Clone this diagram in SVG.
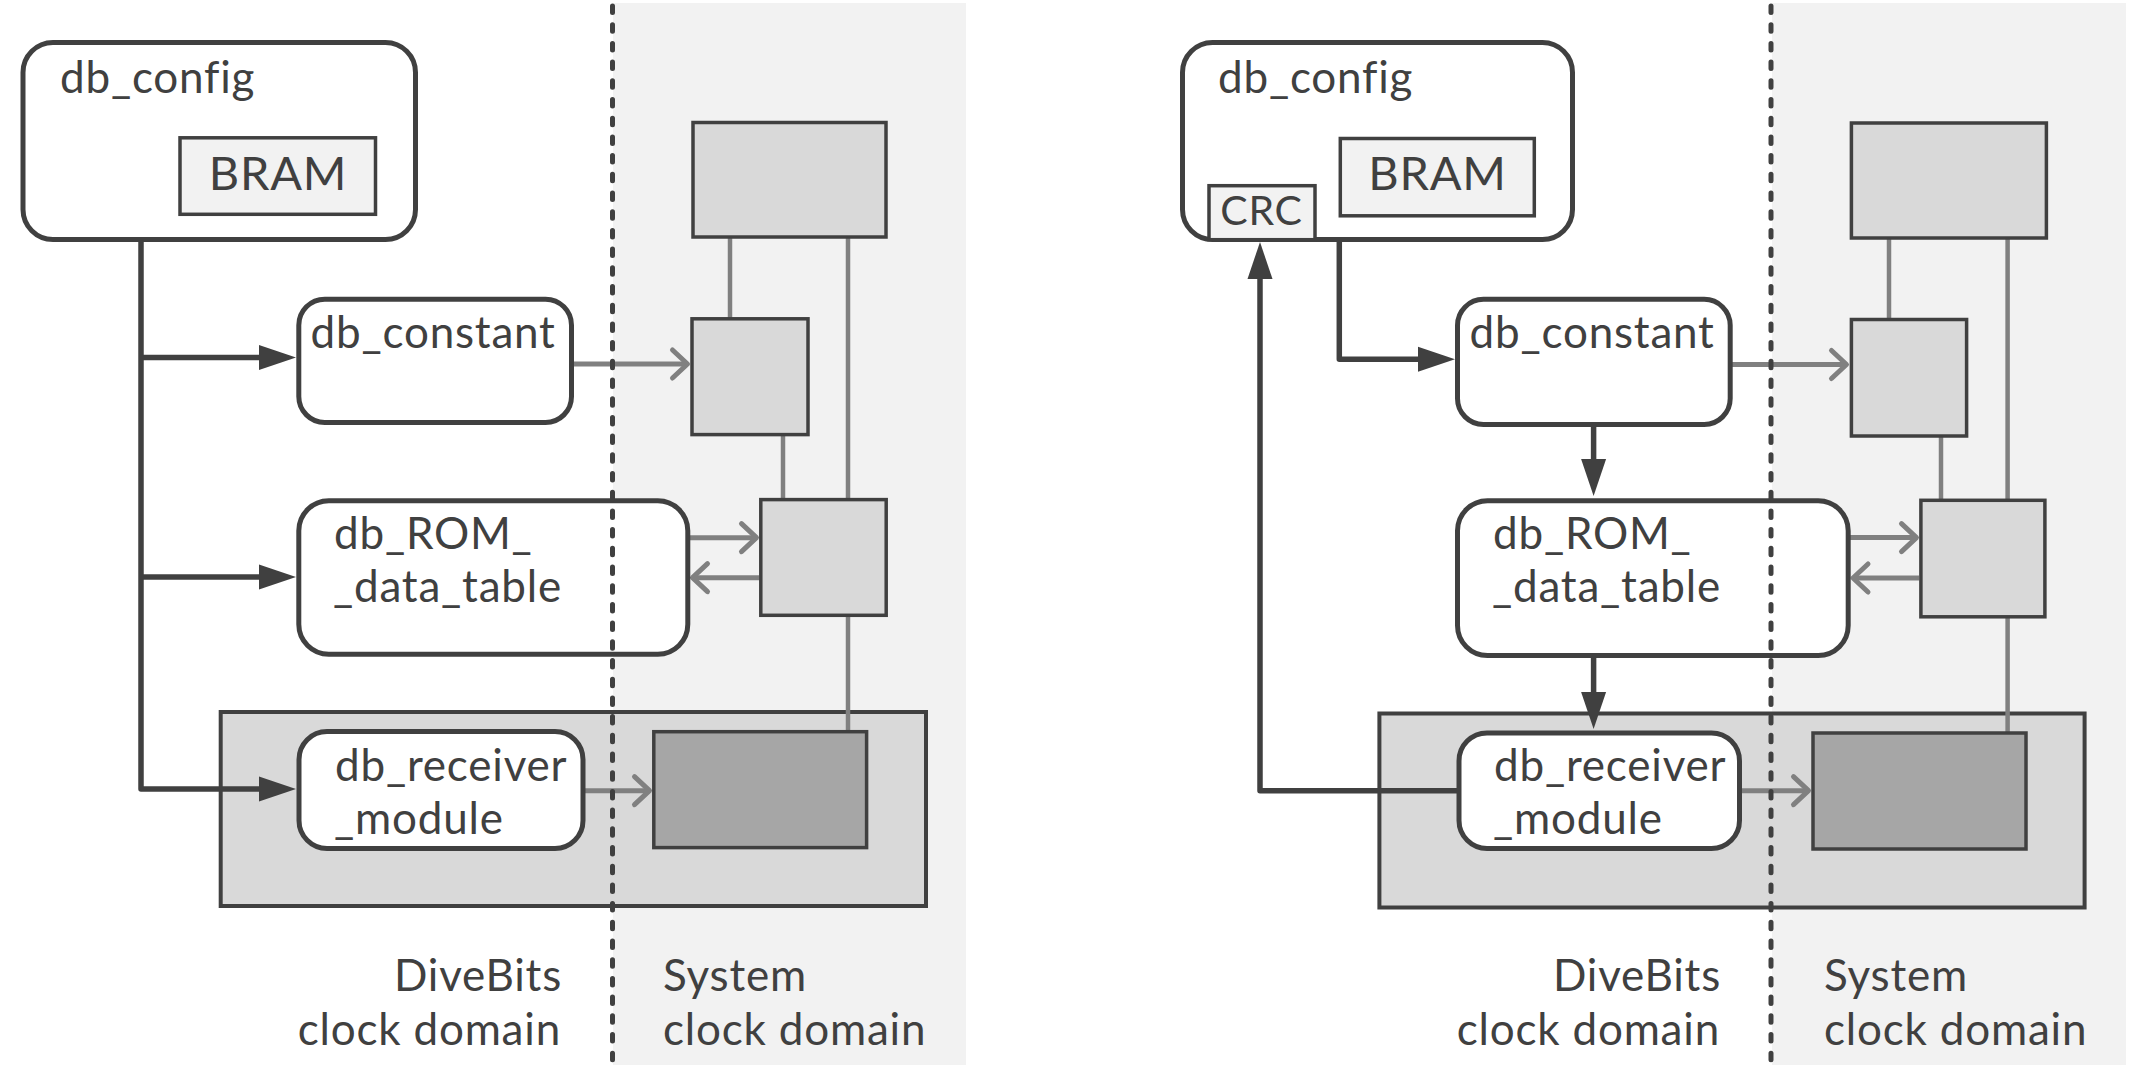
<svg xmlns="http://www.w3.org/2000/svg" width="2132" height="1070" viewBox="0 0 2132 1070">
<defs>
<style>
.bg{fill:#f2f2f2;stroke:none}
.rbox{fill:#ffffff;stroke:#404040;stroke-width:5}
.mem{fill:#f2f2f2;stroke:#404040;stroke-width:3.5}
.blk{fill:#d9d9d9;stroke:#404040;stroke-width:3.5}
.dark{fill:#a6a6a6;stroke:#404040;stroke-width:3.5}
.cont{fill:#d9d9d9;stroke:#404040;stroke-width:4}
.t{font-family:Lato,"Open Sans","DejaVu Sans",sans-serif;font-size:44px;letter-spacing:0.8px;font-variant-ligatures:none;fill:#404040}
.tb{font-size:47px}
.tc{font-size:41px}
.glink{fill:none;stroke:#808080;stroke-width:4.5}
.garr{fill:none;stroke:#808080;stroke-width:5;marker-end:url(#chev)}
.darr{fill:none;stroke:#404040;stroke-width:5.5;stroke-linejoin:round;marker-end:url(#tri)}
.dash{fill:none;stroke:#404040;stroke-width:5;stroke-dasharray:6.5 12.2;stroke-linecap:round}
</style>
<marker id="chev" markerUnits="userSpaceOnUse" viewBox="-20 -20 25 40" refX="0" refY="0" markerWidth="25" markerHeight="40" orient="auto" overflow="visible">
<path d="M-15,-14 L0,0 L-15,14" fill="none" stroke="#808080" stroke-width="5" stroke-linecap="round" stroke-linejoin="round"/>
</marker>
<marker id="tri" markerUnits="userSpaceOnUse" viewBox="-2 -15 42 30" refX="0" refY="0" markerWidth="42" markerHeight="30" orient="auto" overflow="visible">
<path d="M0,-12.5 L37,0 L0,12.5 Z" fill="#404040"/>
</marker>
</defs>

<!-- clock domain backgrounds -->
<g id="backgrounds">
<rect class="bg" x="613" y="3" width="353" height="1062"/>
<rect class="bg" x="1772" y="3" width="354" height="1062"/>
</g>

<!-- containers -->
<g id="L_container"><rect class="cont" x="220.7" y="712" width="705.3" height="194"/></g>
<g id="R_container"><rect class="cont" x="1379.4" y="713.5" width="705.2" height="194"/></g>

<!-- connectors -->
<g id="connectors">
<!-- left panel -->
<path class="glink" d="M730,238 V318"/>
<path class="glink" d="M848,238 V499"/>
<path class="glink" d="M783,435 V499"/>
<path class="glink" d="M848,616 V732"/>
<path class="garr" d="M574,364 H687.5"/>
<path class="garr" d="M690,537.7 H756.5"/>
<path class="garr" d="M759,577.7 H692.5"/>
<path class="garr" d="M584,790.7 H649.5"/>
<path class="darr" d="M141,241 V789 H259"/>
<path class="darr" d="M141,357.5 H259"/>
<path class="darr" d="M141,577 H259"/>
<!-- right panel -->
<path class="glink" d="M1889,239 V319"/>
<path class="glink" d="M2007.6,239 V500"/>
<path class="glink" d="M1941,437 V500"/>
<path class="glink" d="M2007.6,617 V733"/>
<path class="garr" d="M1732,364.5 H1846.5"/>
<path class="garr" d="M1850,537.6 H1916.5"/>
<path class="garr" d="M1919,578 H1853"/>
<path class="garr" d="M1742,790.7 H1808.5"/>
<path class="darr" d="M1339.3,241 V359.3 H1418"/>
<path class="darr" d="M1593.6,426 V459"/>
<path class="darr" d="M1593.6,657 V692"/>
<path class="darr" d="M1459,790.7 H1260 V279"/>
</g>

<!-- left panel nodes -->
<g id="L_db_config">
<rect class="rbox" x="23" y="42.5" width="392.5" height="197" rx="30"/>
<text class="t" x="60" y="93">db_config</text>
</g>
<g id="L_BRAM">
<rect class="mem" x="180" y="137.8" width="195.5" height="76.5"/>
<text class="t tb" x="278" y="189.5" text-anchor="middle">BRAM</text>
</g>
<g id="L_db_constant">
<rect class="rbox" x="298.8" y="299.2" width="272.7" height="123.3" rx="26"/>
<text class="t" x="310.6" y="348">db_constant</text>
</g>
<g id="L_db_ROM_data_table">
<rect class="rbox" x="298.8" y="500.8" width="389" height="153.5" rx="30"/>
<text class="t" x="334" y="549">db_ROM_<tspan x="333" dy="53">_data_table</tspan></text>
</g>
<g id="L_db_receiver_module">
<rect class="rbox" x="299" y="731.5" width="284" height="117" rx="28"/>
<text class="t" x="335" y="781">db_receiver<tspan x="334" dy="53">_module</tspan></text>
</g>
<g id="L_sys_top"><rect class="blk" x="693" y="122.5" width="193" height="114.5"/></g>
<g id="L_sys_const"><rect class="blk" x="692" y="318.8" width="116" height="115.8"/></g>
<g id="L_sys_rom"><rect class="blk" x="760.8" y="499.6" width="125.4" height="115.7"/></g>
<g id="L_sys_recv"><rect class="dark" x="653.8" y="731.7" width="212.8" height="115.9"/></g>
<g id="L_labels">
<text class="t" x="562" y="990.5" text-anchor="end">DiveBits<tspan x="561" dy="54">clock domain</tspan></text>
<text class="t" x="663" y="990.5">System<tspan x="663" dy="54">clock domain</tspan></text>
</g>

<!-- right panel nodes -->
<g id="R_db_config">
<rect class="rbox" x="1182.5" y="42.5" width="390" height="197" rx="30"/>
<text class="t" x="1218" y="93">db_config</text>
</g>
<g id="R_CRC">
<rect class="mem" x="1209" y="185.7" width="106" height="54"/>
<text class="t tc" x="1261.5" y="224.5" text-anchor="middle">CRC</text>
</g>
<g id="R_BRAM">
<rect class="mem" x="1340.3" y="138.5" width="194" height="77.3"/>
<text class="t tb" x="1437.5" y="189.5" text-anchor="middle">BRAM</text>
</g>
<g id="R_db_constant">
<rect class="rbox" x="1457.5" y="299.3" width="272.7" height="125.2" rx="26"/>
<text class="t" x="1469.6" y="348">db_constant</text>
</g>
<g id="R_db_ROM_data_table">
<rect class="rbox" x="1457.5" y="500.8" width="390.7" height="154.7" rx="30"/>
<text class="t" x="1493" y="549">db_ROM_<tspan x="1492" dy="53">_data_table</tspan></text>
</g>
<g id="R_db_receiver_module">
<rect class="rbox" x="1459" y="732.9" width="280.5" height="115.6" rx="28"/>
<text class="t" x="1494" y="781">db_receiver<tspan x="1493" dy="53">_module</tspan></text>
</g>
<g id="R_sys_top"><rect class="blk" x="1851.4" y="123" width="195" height="115"/></g>
<g id="R_sys_const"><rect class="blk" x="1851.4" y="319.5" width="115.2" height="116.5"/></g>
<g id="R_sys_rom"><rect class="blk" x="1920.9" y="500.3" width="124" height="116.5"/></g>
<g id="R_sys_recv"><rect class="dark" x="1813" y="733" width="213" height="116"/></g>
<g id="R_labels">
<text class="t" x="1721" y="990.5" text-anchor="end">DiveBits<tspan x="1720" dy="54">clock domain</tspan></text>
<text class="t" x="1824" y="990.5">System<tspan x="1824" dy="54">clock domain</tspan></text>
</g>

<!-- clock domain boundaries -->
<g id="boundaries">
<path class="dash" d="M612.5,6 V1066"/>
<path class="dash" d="M1771,6 V1066"/>
</g>
</svg>
